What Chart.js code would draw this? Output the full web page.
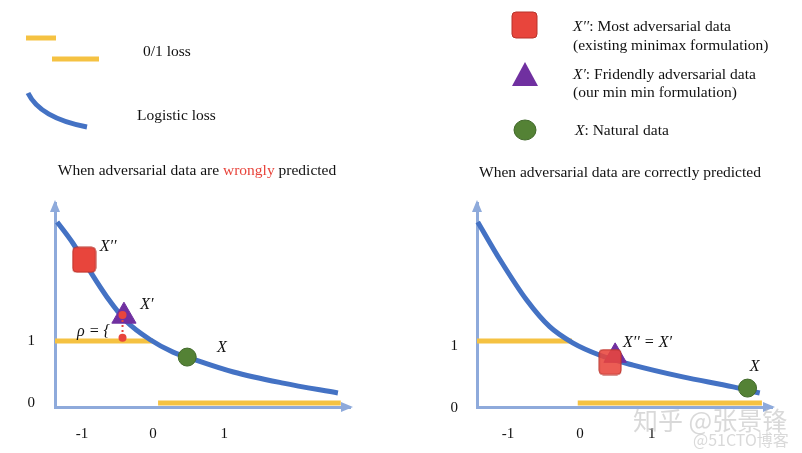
<!DOCTYPE html>
<html>
<head>
<meta charset="utf-8">
<script src="https://cdn.jsdelivr.net/npm/chart.js@4.4.1/dist/chart.umd.min.js"></script>
<style>
body{margin:0;width:802px;height:453px;background:#fff;position:relative;overflow:hidden;font-family:"Liberation Serif",serif;color:#111}
.box{position:absolute;top:0}
.t{position:absolute;font-size:15.5px;line-height:16px;white-space:nowrap}
.c{transform:translateX(-50%)}
i{font-style:italic}
.wm{position:absolute;color:rgba(185,185,185,0.55);white-space:nowrap;font-family:"Noto Sans CJK SC",sans-serif}
</style>
</head>
<body>
<div class="box" style="left:0"><canvas id="left" width="400" height="453"></canvas></div>
<div class="box" style="left:400px"><canvas id="right" width="402" height="453"></canvas></div>

<div class="t" style="left:143px;top:43px">0/1 loss</div>
<div class="t" style="left:137px;top:107px">Logistic loss</div>
<div class="t" style="left:573px;top:18px"><i>X′′</i>: Most adversarial data</div>
<div class="t" style="left:573px;top:37px">(existing minimax formulation)</div>
<div class="t" style="left:573px;top:66px"><i>X′</i>: Fridendly adversarial data</div>
<div class="t" style="left:573px;top:84px">(our min min formulation)</div>
<div class="t" style="left:575px;top:122px"><i>X</i>: Natural data</div>
<div class="t c" style="left:197px;top:162px">When adversarial data are <span style="color:#e8453c">wrongly</span> predicted</div>
<div class="t c" style="left:620px;top:164px">When adversarial data are correctly predicted</div>
<div class="wm" style="left:633px;top:401px;font-size:25px">知乎 @张景锋</div>
<div class="wm" style="left:693px;top:427px;font-size:16px">@51CTO博客</div>

<script>
const xTicks=[-1,0,1];
const yTicks=[0,1];

// left panel: adversarial data wrongly predicted
const leftLossX=[-1.35,-1.13,-0.89,-0.65,-0.37,-0.04,0.28,0.48,1.13,1.83,2.60];
const leftLossY=[2.92,2.58,2.13,1.71,1.31,1.02,0.82,0.74,0.50,0.32,0.16];
const leftOneX=[-1.38,0];
const leftZeroX=[0.07,2.64];
const leftMost=[-0.97,2.31];
const leftFriendly=[-0.41,1.40];
const leftNatural=[0.48,0.74];
const leftRhoX=[-0.43,-0.43];
const leftRhoY=[1.42,1.05];

// right panel: adversarial data correctly predicted
const rightLossX=[-1.42,-1.11,-0.74,-0.42,-0.10,0.28,0.74,1.43,2.13,2.50];
const rightLossY=[2.92,2.31,1.66,1.23,0.97,0.77,0.61,0.42,0.26,0.16];
const rightOneX=[-1.43,-0.11];
const rightZeroX=[-0.03,2.53];
const rightMost=[0.42,0.66];
const rightFriendly=[0.49,0.76];
const rightNatural=[2.33,0.24];

const BLUE="#4472c4",YELLOW="#f5c242",RED="#e8453c",PURPLE="#7030a0",GREEN="#548235",AXIS="#8eaadb";

function pts(xs,ys){return xs.map((x,i)=>({x:x,y:ys[i]}));}

function roundSquare(w,h,fill,stroke){
  const c=document.createElement("canvas");
  c.width=w+2;c.height=h+2;
  const g=c.getContext("2d");
  const r=4,x=1,y=1;
  g.beginPath();
  g.moveTo(x+r,y);g.lineTo(x+w-r,y);g.quadraticCurveTo(x+w,y,x+w,y+r);
  g.lineTo(x+w,y+h-r);g.quadraticCurveTo(x+w,y+h,x+w-r,y+h);
  g.lineTo(x+r,y+h);g.quadraticCurveTo(x,y+h,x,y+h-r);
  g.lineTo(x,y+r);g.quadraticCurveTo(x,y,x+r,y);
  g.closePath();
  g.fillStyle=fill;g.fill();
  g.lineWidth=1;g.strokeStyle=stroke;g.stroke();
  return c;
}

function stepSet(xs,y,order){
  return {type:"line",data:pts(xs,[y,y]),borderColor:YELLOW,borderWidth:5,pointRadius:0,order:order,clip:false,borderCapStyle:"butt"};
}
function lossSet(xs,ys,order){
  return {type:"line",data:pts(xs,ys),borderColor:BLUE,borderWidth:5,pointRadius:0,cubicInterpolationMode:"monotone",order:order,clip:false};
}
function markerSet(p,style,radius,fill,stroke,order){
  return {type:"scatter",data:[{x:p[0],y:p[1]}],pointStyle:style,pointRadius:radius,pointHoverRadius:radius,
    backgroundColor:fill,borderColor:stroke,borderWidth:1,order:order,clip:false};
}

// axis arrows, point labels, legend symbols
const decor={
  id:"decor",
  afterDraw(chart,args,opts){
    const ctx=chart.ctx,a=chart.chartArea,sx=chart.scales.x,sy=chart.scales.y;
    ctx.save();
    ctx.fillStyle=AXIS;
    ctx.beginPath();
    ctx.moveTo(a.left,a.top-3);ctx.lineTo(a.left-5,a.top+9);ctx.lineTo(a.left+5,a.top+9);ctx.closePath();ctx.fill();
    ctx.beginPath();
    ctx.moveTo(a.right+3,a.bottom);ctx.lineTo(a.right-9,a.bottom-5);ctx.lineTo(a.right-9,a.bottom+5);ctx.closePath();ctx.fill();
    ctx.fillStyle="#111";
    ctx.textBaseline="middle";
    (opts.labels||[]).forEach(l=>{
      ctx.font=l.font||"italic 16px 'Liberation Serif'";
      ctx.textAlign=l.align||"left";
      ctx.fillText(l.text,sx.getPixelForValue(l.x),sy.getPixelForValue(l.y));
    });
    if(opts.legend)opts.legend(ctx);
    ctx.restore();
  }
};

function scales(xMin,xMax,yMin,yMax,yw,yPad,yOff){
  return {
    x:{type:"linear",min:xMin,max:xMax,
      afterBuildTicks:s=>{s.ticks=xTicks.map(v=>({value:v}));},
      afterFit:s=>{s.height=46;},
      grid:{display:false,drawTicks:false},
      border:{display:true,color:AXIS,width:3},
      ticks:{padding:18,color:"#111",font:{family:"Liberation Serif",size:15},callback:v=>String(v)}},
    y:{type:"linear",min:yMin,max:yMax,
      afterBuildTicks:s=>{s.ticks=yTicks.map(v=>({value:v}));},
      afterFit:s=>{s.width=yw;},
      grid:{display:false,drawTicks:false},
      border:{display:true,color:AXIS,width:3},
      ticks:{padding:yPad,labelOffset:yOff,color:"#111",font:{family:"Liberation Serif",size:15},callback:v=>String(v)}}
  };
}

const baseOpts={responsive:false,animation:false,events:[],
  plugins:{legend:{display:false},tooltip:{enabled:false}}};

new Chart(document.getElementById("left"),{
  type:"line",
  data:{datasets:[
    stepSet(leftOneX,1,6),
    stepSet(leftZeroX,0,6),
    lossSet(leftLossX,leftLossY,5),
    markerSet(leftMost,roundSquare(23,25,RED,"#b8332b"),12,RED,"#b8332b",3),
    markerSet(leftNatural,"circle",9,GREEN,"#41692a",3),
    markerSet(leftFriendly,"triangle",14,PURPLE,PURPLE,2),
    {type:"line",data:pts(leftRhoX,leftRhoY),borderColor:RED,borderWidth:2,borderDash:[2,3],
      pointRadius:4,pointBackgroundColor:RED,pointBorderWidth:0,order:0,clip:false}
  ]},
  options:Object.assign({},baseOpts,{
    layout:{padding:{top:203,right:50,left:0,bottom:0}},
    scales:scales(-1.38,2.77,-0.065,3.225,55,20,0),
    plugins:Object.assign({},baseOpts.plugins,{decor:{
      labels:[
        {text:"X′′",x:-0.75,y:2.52},
        {text:"X′",x:-0.18,y:1.58},
        {text:"X",x:0.90,y:0.89},
        {text:"ρ = {",x:-1.07,y:1.14}
      ],
      legend:ctx=>{
        ctx.strokeStyle=YELLOW;ctx.lineWidth=5;
        ctx.beginPath();ctx.moveTo(26,38);ctx.lineTo(56,38);ctx.stroke();
        ctx.beginPath();ctx.moveTo(52,59);ctx.lineTo(99,59);ctx.stroke();
        ctx.strokeStyle=BLUE;ctx.lineWidth=5;
        ctx.beginPath();ctx.moveTo(28,93);ctx.quadraticCurveTo(40,118,87,127);ctx.stroke();
      }
    }})
  }),
  plugins:[decor]
});

new Chart(document.getElementById("right"),{
  type:"line",
  data:{datasets:[
    stepSet(rightOneX,1,6),
    stepSet(rightZeroX,0,6),
    lossSet(rightLossX,rightLossY,5),
    markerSet(rightNatural,"circle",9,GREEN,"#41692a",3),
    markerSet(rightFriendly,"triangle",13,PURPLE,PURPLE,2),
    markerSet(rightMost,roundSquare(22,25,"rgba(232,69,60,0.88)","#b8332b"),12,RED,"#b8332b",1)
  ]},
  options:Object.assign({},baseOpts,{
    layout:{padding:{top:203,right:30,left:0,bottom:0}},
    scales:scales(-1.43,2.67,-0.065,3.225,77,19,5),
    plugins:Object.assign({},baseOpts.plugins,{decor:{
      labels:[
        {text:"X′′ = X′",x:0.60,y:0.97},
        {text:"X",x:2.43,y:0.58,align:"center"}
      ],
      legend:ctx=>{
        const sq=roundSquare(25,26,RED,"#b8332b");
        ctx.drawImage(sq,111,11);
        ctx.fillStyle=PURPLE;
        ctx.beginPath();ctx.moveTo(125,62);ctx.lineTo(138,86);ctx.lineTo(112,86);ctx.closePath();ctx.fill();
        ctx.fillStyle=GREEN;ctx.strokeStyle="#41692a";ctx.lineWidth=1;
        ctx.beginPath();ctx.ellipse(125,130,11,10,0,0,Math.PI*2);ctx.fill();ctx.stroke();
      }
    }})
  }),
  plugins:[decor]
});
</script>
</body>
</html>
